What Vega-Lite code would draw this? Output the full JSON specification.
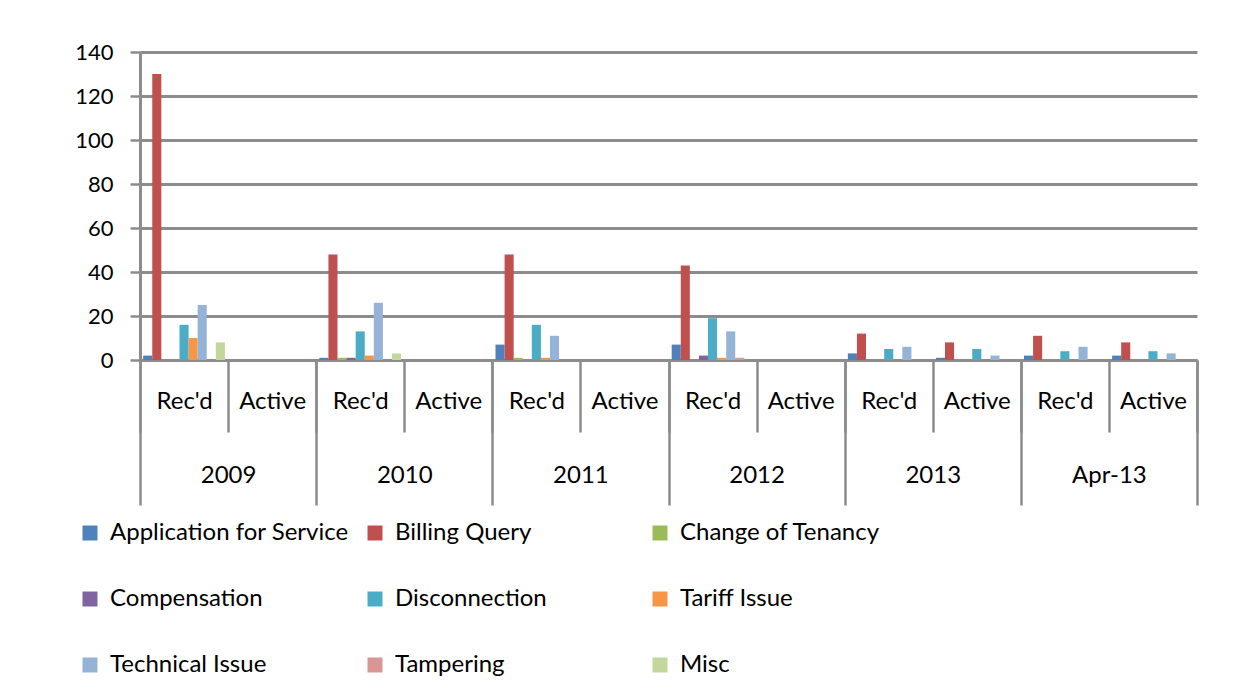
{
  "$schema": "https://vega.github.io/schema/vega-lite/v6.json",
  "width": 1057,
  "height": 308,
  "autosize": {"type": "none"},
  "padding": {"left": 140, "top": 52, "right": 52, "bottom": 332},
  "background": "white",
  "config": {
    "font": "Lato",
    "view": {"stroke": null},
    "axis": {"labelColor": "black", "labelFontSize": 24, "titleFontSize": 24}
  },
  "data": {
    "values": [
      {"year": "2009", "status": "Rec'd", "key": "2009|Rec'd", "category": "Application for Service", "value": 2},
      {"year": "2009", "status": "Rec'd", "key": "2009|Rec'd", "category": "Billing Query", "value": 130},
      {"year": "2009", "status": "Rec'd", "key": "2009|Rec'd", "category": "Disconnection", "value": 16},
      {"year": "2009", "status": "Rec'd", "key": "2009|Rec'd", "category": "Tariff Issue", "value": 10},
      {"year": "2009", "status": "Rec'd", "key": "2009|Rec'd", "category": "Technical Issue", "value": 25},
      {"year": "2009", "status": "Rec'd", "key": "2009|Rec'd", "category": "Misc", "value": 8},
      {"year": "2010", "status": "Rec'd", "key": "2010|Rec'd", "category": "Application for Service", "value": 1},
      {"year": "2010", "status": "Rec'd", "key": "2010|Rec'd", "category": "Billing Query", "value": 48},
      {"year": "2010", "status": "Rec'd", "key": "2010|Rec'd", "category": "Change of Tenancy", "value": 1},
      {"year": "2010", "status": "Rec'd", "key": "2010|Rec'd", "category": "Compensation", "value": 1},
      {"year": "2010", "status": "Rec'd", "key": "2010|Rec'd", "category": "Disconnection", "value": 13},
      {"year": "2010", "status": "Rec'd", "key": "2010|Rec'd", "category": "Tariff Issue", "value": 2},
      {"year": "2010", "status": "Rec'd", "key": "2010|Rec'd", "category": "Technical Issue", "value": 26},
      {"year": "2010", "status": "Rec'd", "key": "2010|Rec'd", "category": "Misc", "value": 3},
      {"year": "2011", "status": "Rec'd", "key": "2011|Rec'd", "category": "Application for Service", "value": 7},
      {"year": "2011", "status": "Rec'd", "key": "2011|Rec'd", "category": "Billing Query", "value": 48},
      {"year": "2011", "status": "Rec'd", "key": "2011|Rec'd", "category": "Change of Tenancy", "value": 1},
      {"year": "2011", "status": "Rec'd", "key": "2011|Rec'd", "category": "Disconnection", "value": 16},
      {"year": "2011", "status": "Rec'd", "key": "2011|Rec'd", "category": "Tariff Issue", "value": 1},
      {"year": "2011", "status": "Rec'd", "key": "2011|Rec'd", "category": "Technical Issue", "value": 11},
      {"year": "2012", "status": "Rec'd", "key": "2012|Rec'd", "category": "Application for Service", "value": 7},
      {"year": "2012", "status": "Rec'd", "key": "2012|Rec'd", "category": "Billing Query", "value": 43},
      {"year": "2012", "status": "Rec'd", "key": "2012|Rec'd", "category": "Compensation", "value": 2},
      {"year": "2012", "status": "Rec'd", "key": "2012|Rec'd", "category": "Disconnection", "value": 19},
      {"year": "2012", "status": "Rec'd", "key": "2012|Rec'd", "category": "Tariff Issue", "value": 1},
      {"year": "2012", "status": "Rec'd", "key": "2012|Rec'd", "category": "Technical Issue", "value": 13},
      {"year": "2012", "status": "Rec'd", "key": "2012|Rec'd", "category": "Tampering", "value": 1},
      {"year": "2013", "status": "Rec'd", "key": "2013|Rec'd", "category": "Application for Service", "value": 3},
      {"year": "2013", "status": "Rec'd", "key": "2013|Rec'd", "category": "Billing Query", "value": 12},
      {"year": "2013", "status": "Rec'd", "key": "2013|Rec'd", "category": "Disconnection", "value": 5},
      {"year": "2013", "status": "Rec'd", "key": "2013|Rec'd", "category": "Technical Issue", "value": 6},
      {"year": "2013", "status": "Active", "key": "2013|Active", "category": "Application for Service", "value": 1},
      {"year": "2013", "status": "Active", "key": "2013|Active", "category": "Billing Query", "value": 8},
      {"year": "2013", "status": "Active", "key": "2013|Active", "category": "Disconnection", "value": 5},
      {"year": "2013", "status": "Active", "key": "2013|Active", "category": "Technical Issue", "value": 2},
      {"year": "Apr-13", "status": "Rec'd", "key": "Apr-13|Rec'd", "category": "Application for Service", "value": 2},
      {"year": "Apr-13", "status": "Rec'd", "key": "Apr-13|Rec'd", "category": "Billing Query", "value": 11},
      {"year": "Apr-13", "status": "Rec'd", "key": "Apr-13|Rec'd", "category": "Disconnection", "value": 4},
      {"year": "Apr-13", "status": "Rec'd", "key": "Apr-13|Rec'd", "category": "Technical Issue", "value": 6},
      {"year": "Apr-13", "status": "Active", "key": "Apr-13|Active", "category": "Application for Service", "value": 2},
      {"year": "Apr-13", "status": "Active", "key": "Apr-13|Active", "category": "Billing Query", "value": 8},
      {"year": "Apr-13", "status": "Active", "key": "Apr-13|Active", "category": "Disconnection", "value": 4},
      {"year": "Apr-13", "status": "Active", "key": "Apr-13|Active", "category": "Technical Issue", "value": 3}
    ]
  },
  "layer": [
    {
      "mark": {"type": "bar"},
      "encoding": {
        "x": {
          "field": "key",
          "type": "nominal",
          "scale": {
            "domain": ["2009|Rec'd", "2009|Active", "2010|Rec'd", "2010|Active", "2011|Rec'd", "2011|Active", "2012|Rec'd", "2012|Active", "2013|Rec'd", "2013|Active", "Apr-13|Rec'd", "Apr-13|Active"],
            "paddingInner": 0,
            "paddingOuter": 0
          },
          "axis": {
            "orient": "bottom",
            "title": null,
            "labelExpr": "split(datum.value, '|')[1]",
            "labelAngle": 0,
            "tickBand": "extent",
            "tickSize": 72,
            "labelPadding": -43,
            "domainColor": "#8c8c8c",
            "domainWidth": 3,
            "tickColor": "#8c8c8c",
            "tickWidth": 2.5
          }
        },
        "xOffset": {
          "field": "category",
          "type": "nominal",
          "scale": {
            "domain": ["Application for Service", "Billing Query", "Change of Tenancy", "Compensation", "Disconnection", "Tariff Issue", "Technical Issue", "Tampering", "Misc"],
            "paddingOuter": 0.35,
            "paddingInner": 0
          }
        },
        "y": {
          "field": "value",
          "type": "quantitative",
          "scale": {"domain": [0, 140]},
          "axis": {
            "title": null,
            "values": [0, 20, 40, 60, 80, 100, 120, 140],
            "gridColor": "#8c8c8c",
            "gridWidth": 3,
            "domainColor": "#8c8c8c",
            "domainWidth": 3,
            "tickSize": 10,
            "tickColor": "#8c8c8c",
            "tickWidth": 2.5,
            "labelFontSize": 22,
            "labelPadding": 17
          }
        },
        "color": {
          "field": "category",
          "type": "nominal",
          "scale": {
            "domain": ["Application for Service", "Billing Query", "Change of Tenancy", "Compensation", "Disconnection", "Tariff Issue", "Technical Issue", "Tampering", "Misc"],
            "range": ["#4F81BD", "#C0504D", "#9BBB59", "#8064A2", "#4BACC6", "#F79646", "#95B3D7", "#D99694", "#C3D69B"]
          },
          "legend": {
            "title": null,
            "orient": "none",
            "direction": "horizontal",
            "legendX": -62,
            "legendY": 469,
            "columns": 3,
            "gridAlign": "all",
            "symbolType": "square",
            "symbolSize": 225,
            "symbolStrokeWidth": 0,
            "labelFontSize": 24,
            "labelColor": "black",
            "labelOffset": 8,
            "labelLimit": 400,
            "rowPadding": 42,
            "columnPadding": 14,
            "padding": 0
          }
        }
      }
    },
    {
      "mark": {"type": "rule", "opacity": 0},
      "encoding": {
        "x": {
          "field": "year",
          "type": "nominal",
          "scale": {
            "domain": ["2009", "2010", "2011", "2012", "2013", "Apr-13"],
            "paddingInner": 0,
            "paddingOuter": 0
          },
          "axis": {
            "orient": "bottom",
            "title": null,
            "labelAngle": 0,
            "tickBand": "extent",
            "tickSize": 145,
            "labelPadding": -42,
            "domain": false,
            "tickColor": "#8c8c8c",
            "tickWidth": 2.5
          }
        }
      }
    }
  ],
  "resolve": {"scale": {"x": "independent"}, "axis": {"x": "independent"}}
}
